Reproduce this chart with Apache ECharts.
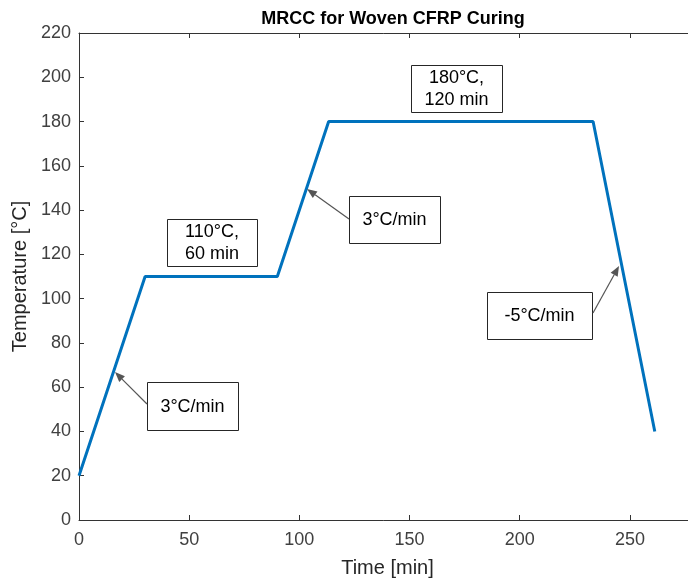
<!DOCTYPE html>
<html>
<head>
<meta charset="utf-8">
<script src="https://cdn.jsdelivr.net/npm/echarts@6/dist/echarts.min.js"></script>
<style>
html,body{margin:0;padding:0;background:#fff;}
#chart{width:688px;height:585px;}
</style>
</head>
<body>
<div id="chart"></div>
<script>
// Cure cycle profile (time in min, temperature in °C)
var timeMin = [0, 30, 90, 113.3, 233.3, 261.3];
var tempC = [20, 110, 110, 180, 180, 40];
var xTicks = [0, 50, 100, 150, 200, 250];
var yTicks = [0, 20, 40, 60, 80, 100, 120, 140, 160, 180, 200, 220];
var annotationTexts = ['3°C/min', '110°C,\n60 min', '3°C/min', '180°C,\n120 min', '-5°C/min'];

var FONT = '"Liberation Sans", Arial, Helvetica, sans-serif';
var chart = echarts.init(document.getElementById('chart'), null, {renderer: 'canvas'});

var axisColor = '#333333';
var option = {
  backgroundColor: '#ffffff',
  animation: false,
  title: {
    text: 'MRCC for Woven CFRP Curing',
    left: 388, top: 5, textAlign: 'center',
    textStyle: {fontFamily: FONT, fontSize: 18, fontWeight: 'bold', color: '#000'}
  },
  grid: {left: 79, top: 33, width: 617, height: 487, containLabel: false, outerBoundsMode: 'none'},
  xAxis: [{
    type: 'value', min: 0, max: 280, interval: 50,
    name: 'Time [min]', nameLocation: 'middle', nameGap: 38,
    nameTextStyle: {fontFamily: FONT, fontSize: 20, color: '#262626'},
    axisLine: {show: true, lineStyle: {color: axisColor, width: 1}},
    axisTick: {show: true, inside: true, length: 5, lineStyle: {color: axisColor}},
    axisLabel: {fontFamily: FONT, fontSize: 18, color: '#404040', margin: 11,
      formatter: function (v) { return xTicks.indexOf(v) >= 0 ? String(v) : ''; }},
    splitLine: {show: false}
  }, {
    type: 'value', min: 0, max: 280, interval: 50, position: 'top',
    axisLine: {show: true, onZero: false, lineStyle: {color: axisColor, width: 1}},
    axisTick: {show: true, inside: true, length: 5, lineStyle: {color: axisColor}},
    axisLabel: {show: false},
    splitLine: {show: false}
  }],
  yAxis: [{
    type: 'value', min: 0, max: 220, interval: 20,
    name: 'Temperature [°C]', nameLocation: 'middle', nameGap: 46,
    nameTextStyle: {fontFamily: FONT, fontSize: 20, color: '#262626'},
    axisLine: {show: true, lineStyle: {color: axisColor, width: 1}},
    axisTick: {show: true, inside: true, length: 5, lineStyle: {color: axisColor}},
    axisLabel: {fontFamily: FONT, fontSize: 18, color: '#404040', margin: 8,
      formatter: function (v) { return yTicks.indexOf(v) >= 0 ? String(v) : ''; }},
    splitLine: {show: false}
  }],
  series: [{
    type: 'line',
    data: timeMin.map(function (t, i) { return [t, tempC[i]]; }),
    showSymbol: false,
    lineStyle: {color: '#0072BD', width: 3},
    itemStyle: {color: '#0072BD'},
    z: 5
  }]
};
chart.setOption(option);

// Annotation layout (pixel boxes + arrow tails/tips)
var boxes = [
  {x: 147, y: 382, w: 91, h: 48, text: annotationTexts[0], tail: [147, 404], tip: [115, 372]},
  {x: 167, y: 219, w: 90, h: 47, text: annotationTexts[1]},
  {x: 349, y: 196, w: 91, h: 47, text: annotationTexts[2], tail: [349, 219], tip: [307, 189]},
  {x: 411, y: 65, w: 91, h: 47, text: annotationTexts[3]},
  {x: 487, y: 292, w: 105, h: 47, text: annotationTexts[4], tail: [593, 313], tip: [619, 266]}
];
var graphics = [];
boxes.forEach(function (b) {
  graphics.push({
    type: 'rect', z: 10,
    shape: {x: b.x + 0.5, y: b.y + 0.5, width: b.w, height: b.h},
    style: {fill: '#ffffff', stroke: '#262626', lineWidth: 1}
  });
  graphics.push({
    type: 'text', z: 11,
    style: {text: b.text, x: b.x + b.w / 2, y: b.y + b.h / 2 + 1, align: 'center', verticalAlign: 'middle',
      font: '18px ' + FONT, lineHeight: 22, fill: '#000000'}
  });
  if (b.tail) {
    var dx = b.tip[0] - b.tail[0], dy = b.tip[1] - b.tail[1];
    var len = Math.sqrt(dx * dx + dy * dy);
    var ux = dx / len, uy = dy / len;
    var hl = 10, hw = 4;
    var bx = b.tip[0] - ux * hl, by = b.tip[1] - uy * hl;
    graphics.push({
      type: 'line', z: 10,
      shape: {x1: b.tail[0], y1: b.tail[1], x2: bx, y2: by},
      style: {stroke: '#555555', lineWidth: 1.2}
    });
    graphics.push({
      type: 'polygon', z: 10,
      shape: {points: [b.tip, [bx - uy * hw, by + ux * hw], [bx + uy * hw, by - ux * hw]]},
      style: {fill: '#555555'}
    });
  }
});
chart.setOption({graphic: graphics});
</script>
</body>
</html>
